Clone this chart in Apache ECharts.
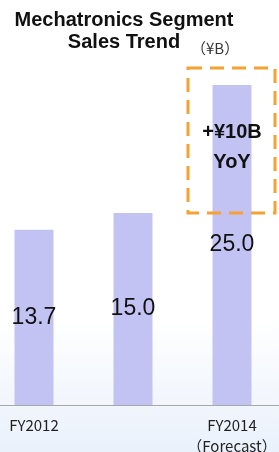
<!DOCTYPE html>
<html>
<head>
<meta charset="utf-8">
<script src="https://cdn.jsdelivr.net/npm/echarts@6/dist/echarts.min.js"></script>
<style>
html, body { margin: 0; padding: 0; }
#main {
  width: 279px; height: 452px;
  background: linear-gradient(180deg, #ffffff 0%, #ffffff 70%, #eaf1fb 100%);
}
</style>
</head>
<body>
<div id="main"></div>
<script>
var years = ['FY2012', 'FY2013', 'FY2014\n（Forecast）'];
var sales = [13.7, 15.0, 25.0];

var chart = echarts.init(document.getElementById('main'));
chart.setOption({
  animation: false,
  title: [
    {
      text: 'Mechatronics Segment\nSales Trend',
      left: 119, top: 4, textAlign: 'center',
      textStyle: { fontFamily: 'Liberation Sans', fontWeight: 'bold', fontSize: 20, lineHeight: 22, color: '#111' }
    },
    {
      text: '（¥B）',
      left: 186, top: 36,
      textStyle: { fontFamily: 'Noto Sans CJK JP', fontWeight: 'normal', fontSize: 15, color: '#333' }
    }
  ],
  grid: { left: -15.5, right: -2.5, top: 21, bottom: 47, outerBoundsMode: 'none' },
  xAxis: {
    type: 'category',
    data: years,
    axisLine: { lineStyle: { color: '#a8a8a8', width: 1 } },
    axisTick: { show: false },
    axisLabel: {
      margin: 10, color: '#222', fontSize: 15, lineHeight: 21,
      fontFamily: 'Noto Sans CJK JP'
    }
  },
  yAxis: { type: 'value', min: 0, max: 30, show: false, splitLine: { show: false } },
  series: [{
    type: 'bar',
    data: sales,
    barWidth: 39,
    itemStyle: { color: '#c3c3f3' },
    label: {
      show: true, position: 'inside',
      formatter: function (p) { return p.value.toFixed(1); },
      fontFamily: 'Liberation Sans', fontSize: 23, color: '#111'
    }
  }],
  graphic: [
    {
      type: 'rect', z: 100,
      shape: { x: 188, y: 68, width: 87, height: 145 },
      style: { fill: 'none', stroke: '#f5a233', lineWidth: 3, lineDash: [14, 8] }
    },
    {
      type: 'text', z: 100,
      x: 232, y: 147,
      style: {
        text: '+¥10B\nYoY', align: 'center', verticalAlign: 'middle',
        font: 'bold 20px "Liberation Sans"', lineHeight: 30, fill: '#111'
      }
    }
  ]
});
</script>
</body>
</html>
